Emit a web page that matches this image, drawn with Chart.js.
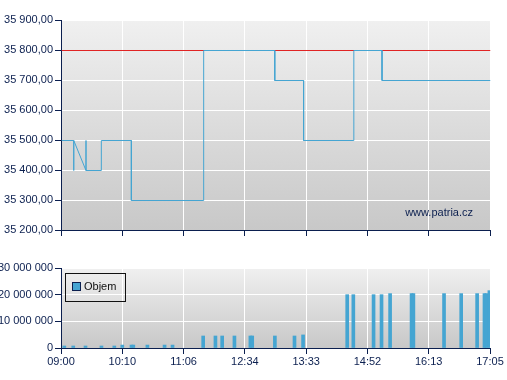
<!DOCTYPE html>
<html>
<head>
<meta charset="utf-8">
<script src="https://cdn.jsdelivr.net/npm/chart.js@4.4.1/dist/chart.umd.min.js"></script>
<style>
  body { margin: 0; background: #fff; }
  #wrap { position: relative; width: 507px; height: 380px; }
  canvas { position: absolute; left: 0; }
  #priceChart { top: 0; }
  #volumeChart { top: 240px; }
</style>
</head>
<body>
<div id="wrap">
  <canvas id="priceChart" width="507" height="240"></canvas>
  <canvas id="volumeChart" width="507" height="140"></canvas>
</div>
<script>
// x axis is index based: tick i sits at position i
const timeLabels = ['09:00', '10:10', '11:06', '12:34', '13:33', '14:52', '16:13', '17:05'];

// price path (position, value)
const priceX = [0, 0.2, 0.2, 0.2, 0.4, 0.4, 0.4, 0.65, 0.65, 1.14, 1.14, 2.32, 2.32, 3.48, 3.48, 3.95, 3.95, 4.77, 4.77, 5.23, 5.23, 7];
const priceY = [35500, 35500, 35400, 35500, 35400, 35500, 35400, 35400, 35500, 35500, 35300, 35300, 35800, 35800, 35700, 35700, 35500, 35500, 35800, 35800, 35700, 35700];
const refPrice = 35800;

// volume bars
const volX = [0.054, 0.2, 0.4, 0.66, 0.87, 1.0, 1.15, 1.18, 1.41, 1.69, 1.82,
  2.32, 2.52, 2.63, 2.83, 3.09, 3.12, 3.49, 3.81, 3.95,
  4.67, 4.77, 5.10, 5.23, 5.37, 5.72, 5.75, 6.25, 6.53, 6.79, 6.91, 6.94, 6.99];
const volY = [750000, 750000, 750000, 750000, 750000, 1100000, 1100000, 1100000, 1100000, 1100000, 1100000,
  4500000, 4500000, 4500000, 4500000, 4500000, 4500000, 4500000, 4500000, 4900000,
  20000000, 20000000, 20000000, 20000000, 20400000, 20400000, 20400000, 20400000, 20400000, 20400000, 20400000, 20400000, 21500000];

const navy = '#0b1f4f';
const blue = '#45a5d2';
const font = { family: "'Liberation Sans', Arial, sans-serif", size: 11 };

function spaced(n) {
  return String(n).replace(/\B(?=(\d{3})+(?!\d))/g, ' ');
}

const plotBackground = {
  id: 'plotBackground',
  beforeDraw(chart) {
    const { ctx, chartArea: { top, bottom, left, right } } = chart;
    const g = ctx.createLinearGradient(0, top, 0, bottom);
    g.addColorStop(0, '#f0f0f0');
    g.addColorStop(1, '#c8c8c8');
    ctx.save();
    ctx.fillStyle = g;
    ctx.fillRect(left, top, right - left, bottom - top);
    ctx.restore();
  }
};

// shift the 1px price lines onto pixel centres so they stay sharp
const crispLines = {
  id: 'crispLines',
  beforeDatasetsDraw(chart) {
    chart.ctx.save();
    chart.ctx.translate(0.5, 0.5);
  },
  afterDatasetsDraw(chart) {
    chart.ctx.restore();
  }
};

const watermark = {
  id: 'watermark',
  afterDraw(chart) {
    const { ctx } = chart;
    ctx.save();
    ctx.font = "11px 'Liberation Sans', Arial, sans-serif";
    ctx.fillStyle = navy;
    ctx.textAlign = 'right';
    ctx.textBaseline = 'middle';
    ctx.fillText('www.patria.cz', 473, 213);
    ctx.restore();
  }
};

const volumeLegend = {
  id: 'volumeLegend',
  afterDraw(chart) {
    const { ctx } = chart;
    ctx.save();
    ctx.strokeStyle = '#111';
    ctx.lineWidth = 1;
    ctx.strokeRect(65.5, 33.5, 60, 28);
    ctx.fillStyle = blue;
    ctx.fillRect(73, 43, 7, 7);
    ctx.strokeStyle = navy;
    ctx.strokeRect(72.5, 42.5, 8, 8);
    ctx.font = "11px 'Liberation Sans', Arial, sans-serif";
    ctx.fillStyle = '#111';
    ctx.textBaseline = 'middle';
    ctx.fillText('Objem', 84, 47);
    ctx.restore();
  }
};

const xCommon = {
  type: 'linear',
  min: 0,
  max: 7,
  offset: false,
  grid: { color: '#ffffff', tickColor: navy, tickLength: 6, offset: false },
  border: { color: navy, width: 1 }
};

new Chart(document.getElementById('priceChart'), {
  type: 'line',
  data: {
    datasets: [
      {
        data: priceX.map((x, i) => ({ x, y: priceY[i] })),
        borderColor: blue,
        borderWidth: 1,
        pointRadius: 0,
        tension: 0
      },
      {
        data: [{ x: 0, y: refPrice }, { x: 7, y: refPrice }],
        borderColor: '#e02424',
        borderWidth: 1,
        pointRadius: 0
      }
    ]
  },
  options: {
    responsive: false,
    animation: false,
    layout: { padding: { top: 20, right: 17, left: 0, bottom: 0 } },
    scales: {
      x: {
        ...xCommon,
        ticks: { display: false, stepSize: 1 },
        afterFit: s => { s.height = 10; }
      },
      y: {
        min: 35200,
        max: 35900,
        ticks: {
          stepSize: 100,
          color: navy,
          font,
          padding: 2,
          callback: v => spaced(Math.round(v)) + ',00'
        },
        grid: { color: '#ffffff', tickColor: navy, tickLength: 6 },
        border: { color: navy, width: 1 },
        afterFit: s => { s.width = 61; }
      }
    },
    plugins: { legend: { display: false }, tooltip: { enabled: false } }
  },
  plugins: [plotBackground, crispLines, watermark]
});

new Chart(document.getElementById('volumeChart'), {
  type: 'bar',
  data: {
    datasets: [{
      label: 'Objem',
      data: volX.map((x, i) => ({ x, y: volY[i] })),
      backgroundColor: blue,
      barThickness: 3
    }]
  },
  options: {
    responsive: false,
    animation: false,
    layout: { padding: { top: 28, right: 17, left: 0, bottom: 0 } },
    scales: {
      x: {
        ...xCommon,
        ticks: {
          stepSize: 1,
          color: navy,
          font,
          maxRotation: 0,
          autoSkip: false,
          padding: 1,
          callback: v => timeLabels[v]
        },
        afterFit: s => { s.height = 32; }
      },
      y: {
        min: 0,
        max: 30000000,
        ticks: {
          stepSize: 10000000,
          color: navy,
          font,
          padding: 2,
          callback: v => spaced(v)
        },
        grid: { color: '#ffffff', tickColor: navy, tickLength: 6 },
        border: { color: navy, width: 1 },
        afterFit: s => { s.width = 61; }
      }
    },
    plugins: { legend: { display: false }, tooltip: { enabled: false } }
  },
  plugins: [plotBackground, volumeLegend]
});
</script>
</body>
</html>
